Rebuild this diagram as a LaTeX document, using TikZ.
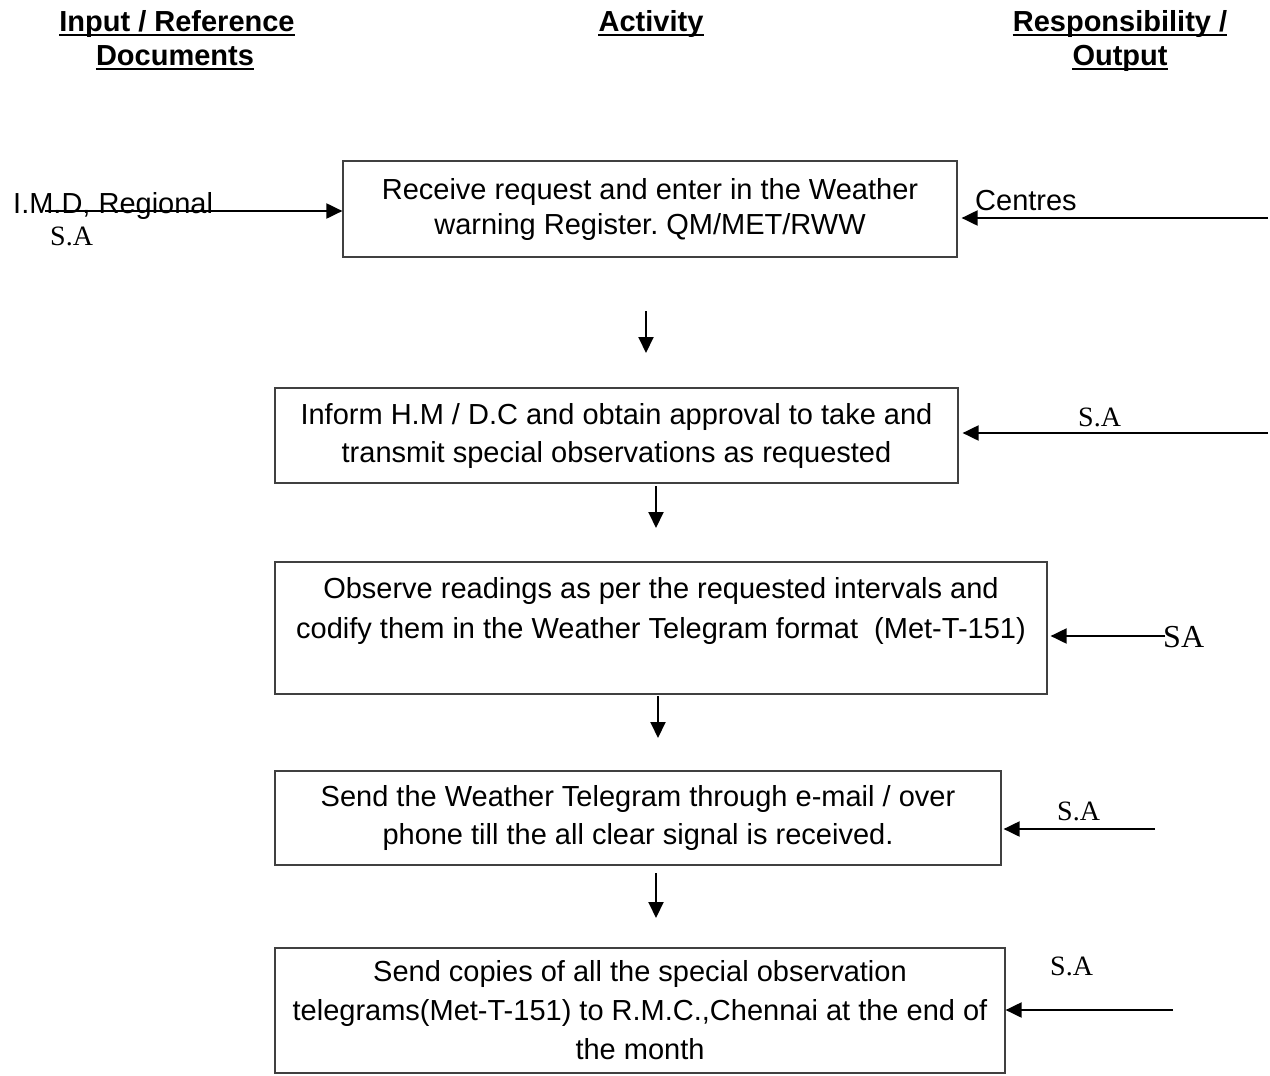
\documentclass[tikz,border=0pt]{standalone}
\usepackage{fontspec}
\setmainfont{Liberation Sans}
\newfontfamily\serifsa{Liberation Serif}
\usetikzlibrary{arrows.meta}
\tikzset{
  flowbox/.style={draw=black!75, line width=1.2pt, rectangle, align=center, inner sep=0pt,
    font=\fontsize{29}{38}\selectfont},
  hdr/.style={inner sep=0pt, anchor=base, font=\fontsize{29}{34}\selectfont\bfseries},
  ulline/.style={line width=1.8pt},
  lbl/.style={inner sep=0pt, anchor=base west, font=\fontsize{29}{34}\selectfont},
  salbl/.style={inner sep=0pt, anchor=base west, font=\serifsa\fontsize{28}{32}\selectfont},
  arr/.style={line width=2pt, -{Triangle[length=16pt,width=15pt]}},
}
\frenchspacing
\begin{document}
\begin{tikzpicture}[x=1pt,y=-1pt]
\useasboundingbox (0,0) rectangle (1270,1076);

% headers
\node[hdr] (h1a) at (177,31) {Input / Reference};
\node[hdr] (h1b) at (175,65) {Documents};
\node[hdr] (h2) at (651,31) {Activity};
\node[hdr] (h3a) at (1120,31) {Responsibility /};
\node[hdr] (h3b) at (1120,65) {Output};
\foreach \n in {h1a,h1b,h2,h3a,h3b}
  \draw[ulline] ([yshift=-4pt]\n.base west) -- ([yshift=-4pt]\n.base east);

% boxes
\node[flowbox, minimum width=614pt, minimum height=96pt, font=\fontsize{29}{35}\selectfont] (b1) at (650,209)
  {Receive request and enter in the Weather\\warning Register. QM/MET/RWW};
\node[flowbox, minimum width=683pt, minimum height=95pt] (b2) at (616.5,435.5)
  {Inform H.M / D.C and obtain approval to take and\\transmit special observations as requested};
\node[flowbox, minimum width=772pt, minimum height=132pt, font=\fontsize{29}{40}\selectfont] (b3) at (661,628)
  {Observe readings as per the requested intervals and\\codify them in the Weather Telegram format\ \ (Met-T-151)\\\mbox{}};
\node[flowbox, minimum width=726pt, minimum height=94pt] (b4) at (638,818)
  {Send the Weather Telegram through e-mail / over\\phone till the all clear signal is received.};
\node[flowbox, minimum width=730pt, minimum height=125pt, font=\fontsize{29}{39}\selectfont] (b5) at (640,1010.5)
  {Send copies of all the special observation\\telegrams(Met-T-151) to R.M.C.,Chennai at the end of\\the month};

% down arrows
\coordinate (d1a) at (646,311); \coordinate (d1b) at (646,353);
\coordinate (d2a) at (656,486); \coordinate (d2b) at (656,528);
\coordinate (d3a) at (658,696); \coordinate (d3b) at (658,738);
\coordinate (d4a) at (656,873); \coordinate (d4b) at (656,918);
\draw[arr] (d1a) -- (d1b);
\draw[arr] (d2a) -- (d2b);
\draw[arr] (d3a) -- (d3b);
\draw[arr] (d4a) -- (d4b);

% left input
\node[lbl] (imd) at (13,213) {I.M.D, Regional};
\node[salbl] (sa0) at (50,245) {S.A};
\coordinate (l1) at (45,211);
\draw[arr] (l1) -- (l1 -| b1.west);

% right side
\node[lbl] (cen) at (975,210) {Centres};
\coordinate (r1) at (1268,218);
\draw[arr] (r1) -- ([xshift=4pt]r1 -| b1.east);

\node[salbl] (sa2) at (1078,426) {S.A};
\coordinate (r2) at (1268,433);
\draw[arr] (r2) -- ([xshift=4pt]r2 -| b2.east);

\coordinate (r3) at (1165,636);
\draw[arr] (r3) -- ([xshift=3pt]r3 -| b3.east);
\node[salbl, font=\serifsa\fontsize{32}{36}\selectfont] (sa3) at (1163,647) {SA};

\node[salbl] (sa4) at (1057,820) {S.A};
\coordinate (r4) at (1155,829);
\draw[arr] (r4) -- ([xshift=2pt]r4 -| b4.east);

\node[salbl] (sa5) at (1050,975) {S.A};
\coordinate (r5) at (1173,1010);
\draw[arr] (r5) -- ([xshift=0pt]r5 -| b5.east);
\end{tikzpicture}
\end{document}
